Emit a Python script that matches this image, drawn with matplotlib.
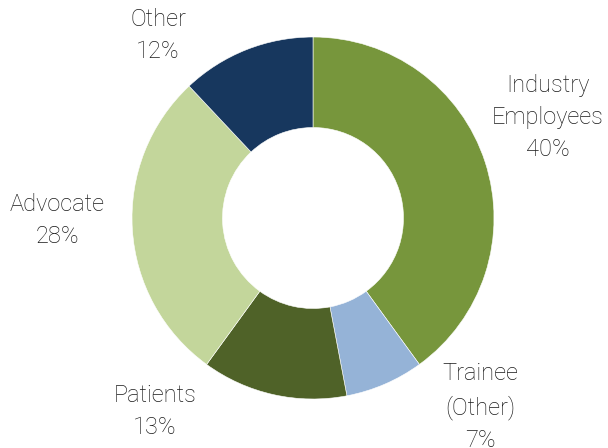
import matplotlib
matplotlib.use("Agg")
import matplotlib.pyplot as plt

categories = ["Industry\nEmployees", "Trainee\n(Other)", "Patients", "Advocate", "Other"]
values = [40, 7, 13, 28, 12]
colors = ["#77963C", "#95B3D7", "#4F6228", "#C3D69B", "#17375E"]

W, H = 608, 448
fig = plt.figure(figsize=(W / 100, H / 100), dpi=100)
ax = fig.add_axes([0, 0, 1, 1])
ax.set_xlim(0, W)
ax.set_ylim(0, H)
ax.set_aspect("equal")
ax.axis("off")

cx, cy, R = 313, H - 218, 181
ax.pie(values, colors=colors, startangle=90, counterclock=False,
       center=(cx, cy), radius=R,
       wedgeprops=dict(width=R * 0.5, edgecolor="white", linewidth=0.4))

# label positions (pixel coords from top-left)
label_pos = [(548, 117), (480, 407), (155, 412), (57, 220), (158, 35)]
for name, v, (x, y) in zip(categories, values, label_pos):
    ax.text(x, H - y, f"{name}\n{v}%", ha="center", va="center",
            fontsize=17, family="Roboto", fontweight="light",
            color="#1a1a1a", linespacing=1.5)

ax.set_xlim(0, W)
ax.set_ylim(0, H)
fig.savefig("out.png", dpi=100)
